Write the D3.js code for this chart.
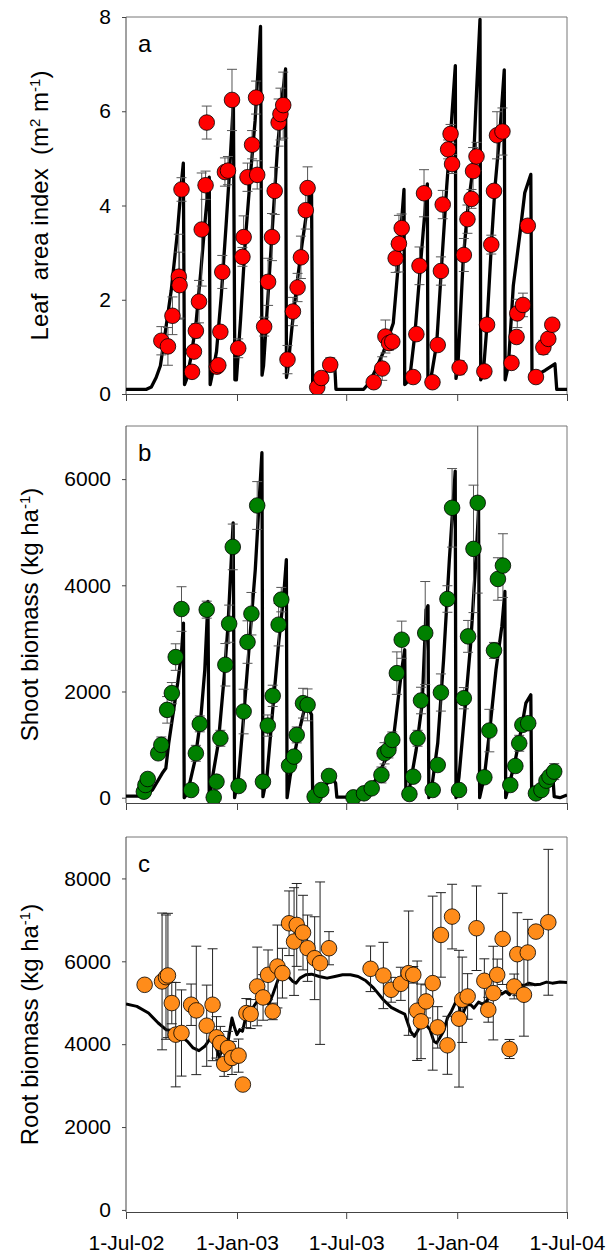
<!DOCTYPE html>
<html>
<head>
<meta charset="utf-8">
<script src="https://cdnjs.cloudflare.com/ajax/libs/d3/7.8.5/d3.min.js"></script>
<style>
  body { margin: 0; background: #fff; }
  svg { font-family: "Liberation Sans", Arial, sans-serif; }
</style>
</head>
<body>
<script>
// days after 1-Jul-02
const laiDay = [58.6,69.5,77,87.5,88.8,92,109.4,112.6,115.8,121,125.5,131.9,133.8,150.6,153,156.4,159.6,164,169,175.7,186,193,195,201.4,209,215.6,217.5,229,235.5,242,246.5,253,256,260.6,267.7,276.7,284.4,290,298,301,317,323.7,338.5,
  410.6,424.7,430,436,441.4,447,452.4,457,476,481.3,486.5,494,508,516.7,522,525,534,538,540.5,553,560,566,572.7,575.3,581,594,598.5,605.5,610,615,624,639,647.4,648.6,658,666,679.5,691.8,700,706.6];
const laiObs = [1.13,1.01,1.66,2.49,2.31,4.34,0.47,0.90,1.34,1.96,3.49,4.43,5.76,0.58,0.61,1.32,2.59,4.71,4.74,6.24,0.97,2.91,3.33,4.60,5.29,6.29,4.65,1.43,2.38,3.33,4.31,5.76,5.94,6.13,0.73,1.75,2.26,2.90,3.90,4.37,0.14,0.34,0.62,
  0.25,0.54,1.22,1.08,1.11,2.88,3.19,3.52,0.36,1.27,2.72,4.26,0.25,1.04,2.61,4.02,5.19,5.52,4.88,0.56,2.95,3.71,4.14,4.73,5.04,0.48,1.47,3.17,4.31,5.49,5.57,0.66,1.21,1.71,1.89,3.57,0.36,0.99,1.17,1.47];
const laiErr = [0.3,0.4,0.4,0.9,0.7,0.25,0.1,0.1,0.15,0.45,1.2,0.3,0.35,0.1,0.1,0.1,0.35,0.3,0.3,0.65,0.2,0.2,0.45,0.3,0.3,0.35,0.3,0.2,0.5,0.5,0.5,0.5,0.55,0.7,0.3,0.3,0.3,0.45,0.4,0.45,0.1,0.1,0.15,
  0.1,0.25,0.35,0.15,0.1,0.3,0.6,0.3,0.1,0.1,0.4,0.5,0.1,0.1,0.3,0.3,0.2,0.2,0.2,0.15,0.35,0.3,0.2,0.5,0.3,0.1,0.1,0.2,0.1,0.5,0.5,0.1,0.1,0.3,0.25,0.1,0.1,0.15,0.1,0.1];
const laiModelDay = [0,34,42,50,57,65,75,85,92,95,97,100,108,116,124,132,138,139.5,142,150,158,166,172,178,180.5,183,190,198,206,214,223,225.5,228,235,243,251,258,264.5,266,268,275,283,292,300,307.5,309.5,320,330,340,346,348,
  394,404,415,427,443,452,460.8,462,470,479,487.3,493,499.5,500.5,505,515,523,531.6,538,545.9,547,550,559,567,575.7,581,586.8,588,592,598,606,611.7,620,627,628.5,633.8,642,653,661,671,673,680,694.5,711,714,731];
const laiModel = [0.1,0.1,0.15,0.35,0.6,1.3,2.2,3.4,4.5,4.9,0.2,0.3,0.8,1.5,2.6,3.8,4.6,0.2,0.35,0.9,2.1,3.6,4.8,6.2,0.3,0.3,1.6,3.3,4.6,5.8,7.8,0.4,0.6,2.0,3.6,5.2,6.2,6.9,0.35,0.5,1.4,2.3,3.2,3.9,4.4,0.15,0.2,0.45,0.6,0.6,0.1,
  0.1,0.25,0.55,0.9,1.5,2.84,4.34,0.2,0.3,1.29,2.6,3.5,4.46,0.2,0.3,1.07,2.7,4.4,5.5,6.97,0.33,0.56,2.87,4.0,4.83,6.4,7.95,0.3,0.4,1.4,3.25,4.4,5.6,6.88,0.3,0.6,2.3,3.4,4.27,4.66,0.35,0.4,0.5,0.64,0.1,0.1];

const shootDay = [29.6,32.2,36,53.4,58.6,68.2,76,82.4,92,108,115.8,122.3,133.8,145.4,150,156.4,164.7,171,177,186.6,195,201.4,207.9,217.5,227,235,243.2,253,257.4,270.3,278.6,283,293.4,301,312.7,323.7,336.5,
  377,394.5,407.3,423.4,428.6,435,441.4,449,457,469.8,476,483.3,489,496,508.4,516.7,522,532.8,540.5,552,560,567,576,583,594,602.3,610,616.5,624.8,637,645.4,651.8,657,666.7,679.5,688.6,697,702,709.8];
const shootObs = [113,239,352,836,994,1654,1969,2648,3553,145,836,1390,3541,6,302,1119,2503,3277,4723,220,1623,2931,3465,5503,302,1358,1918,3258,3730,604,774,1182,1780,1748,19,145,409,
  6,82,176,428,836,899,1088,2346,2975,69,396,1119,1830,3101,145,616,1981,3742,5459,145,1874,3038,4686,5553,384,1264,2774,4119,4371,239,597,1025,1371,1403,82,145,321,396,491];
const shootErr = [50,50,50,100,150,250,200,250,420,50,150,150,160,30,50,150,400,350,430,50,420,400,400,450,50,200,200,400,230,100,100,150,280,300,30,50,60,
  30,30,30,150,200,150,150,400,350,50,80,150,250,970,50,100,350,250,740,50,200,300,1200,1700,100,400,150,400,600,50,100,150,100,100,50,50,50,100,150];
const shootModelDay = [0,30,43.8,60,66,70.8,79,85.6,92,95.2,96.5,101.7,114.5,124.2,130.6,135.8,138,143.5,153,162.8,169,177.6,180,186.6,195,204.6,214.3,225.3,227,233.6,243.2,253,261.3,265.8,267,272,285,298,307.6,309.5,314,327,343,347.5,349.5,
  375,397.7,413.8,430,443,449,457,462,464,468.5,481,491,497.4,500.6,502,507,516.7,526.4,536,545.7,547,552,561.8,571.4,581,584.4,586.2,594,603.6,613.3,623,628,629.4,635.8,645.4,655,662.8,671,672.5,681,693.7,706.6,709.8,719.4,731];
const shootModel = [30,30,145,459,553,1025,1654,2157,2723,3289,0,82,711,1528,2409,3698,0,396,1025,2283,3226,5176,0,396,1528,2912,4296,6497,19,396,1654,2912,3792,4484,0,396,1151,1780,1560,0,20,208,365,270,10,
  10,82,333,711,1088,1654,2409,2786,0,82,900,1780,3541,3616,0,208,1025,2597,4484,6151,0,396,1654,2912,4673,5428,0,396,1340,2409,3226,3887,0,270,711,1277,1780,1937,0,19,333,553,19,0,50];

const rootDay = [30.9,59.8,66.3,69.5,75.9,82.4,92,108,116.5,133.8,143.5,150,156.4,162.8,169.2,175.7,186.6,193.7,199.5,206.6,217.5,227.2,235.5,243.2,251,259.3,270.3,278.6,283,293.4,301,312.7,321.7,336.5,
  405.4,426.6,439.5,455.6,468.5,476.2,482.6,489,497.4,508.4,516.7,522,532.8,540.5,552,557.3,566.3,581,594,600.5,608.8,615.3,624.3,635.8,643.5,648.6,659.6,666,679.5,700];
const rootObs = [5433,5514,5618,5658,4992,4230,4270,4952,4815,4446,4952,4165,4029,3523,3909,3668,3724,3026,4751,4727,5393,5128,5674,4791,5875,5714,6918,6477,6878,6693,6316,6075,5955,6316,
  5819,5658,5313,5457,5714,5674,4807,4551,5032,5473,4406,6637,3973,7079,4615,5072,5152,6798,5530,4831,5233,5674,6541,3884,5393,6172,5193,6212,6717,6942];
const rootErr = [0,1650,1500,1500,500,1260,1040,500,1550,980,1350,500,400,300,400,400,400,0,350,350,950,550,600,200,1000,600,780,1300,1000,900,800,1000,1960,400,
  550,800,300,400,1500,200,1200,900,400,2100,500,1020,700,780,1650,1030,550,1020,530,300,1130,380,1100,230,300,1000,1000,800,0,1760];
const rootModelDay = [0,18,37.3,53.4,66.3,79,92,101.7,111.3,121,130.6,140.3,148,154.4,160.9,169.2,175.7,180.2,184,188.5,193,199.5,207.8,217.5,227,236.8,243.2,252.9,259.3,269,276.7,281.9,288.3,298,307.6,320.5,333.3,346.2,359,372,384.8,397.7,410.6,426.6,439.5,452.4,462,471.7,478,484.5,491,497.4,503.9,510.3,514.8,520,526.4,532.8,539.3,545.7,550.9,555.4,559.9,565,571.4,576.6,584.4,590.8,597.2,603.7,610,616.5,623,629.4,635.8,643.5,651.8,660.2,667.9,677.6,687.2,696.9,706.6,719.4,731];
const rootModel = [4968,4912,4751,4511,4350,4326,4190,4069,3909,3844,3949,4150,3989,3684,3909,4069,4631,4390,4230,4350,4310,4711,4831,5032,5072,4968,5193,5594,5610,5634,5514,5473,5594,5674,5690,5634,5594,5634,5674,5674,5634,5530,5353,5072,4888,4791,4727,4310,4190,4350,4551,4470,4350,4069,4029,4150,4310,4631,4791,4992,5048,4631,4791,4952,4952,4871,5016,4968,5032,5193,5257,5289,5209,5273,5193,5353,5433,5417,5473,5433,5449,5498,5473,5498,5490];

const xTickDates = ["2002-07-01","2003-01-01","2003-07-01","2004-01-01","2004-07-01"];
const xTickLabels = ["1-Jul-02","1-Jan-03","1-Jul-03","1-Jan-04","1-Jul-04"];
const laiTicks = [0,2,4,6,8];
const shootTicks = [0,2000,4000,6000];
const rootTicks = [0,2000,4000,6000,8000];

const W = 610, H = 1254;
const left = 126, right = 567;
const parse = d3.timeParse("%Y-%m-%d");
const start = parse("2002-07-01");
const toDate = d => new Date(start.getTime() + d * 864e5);

const x = d3.scaleTime()
  .domain([start, parse("2004-07-01")])
  .range([left, right]);

const svg = d3.select("body").append("svg")
  .attr("width", W).attr("height", H);

const panels = [
  {key: "a", top: 17, bottom: 394, domain: [0, 8], ticks: laiTicks,
   day: laiDay, obs: laiObs, err: laiErr, mDay: laiModelDay, mod: laiModel,
   fill: "#ff0000", errColor: "#555", titleX: 40,
   title: [["Leaf  area index  (m", 0], ["2", 1], [" m", 0], ["-1", 1], [")", 0]]},
  {key: "b", top: 426, bottom: 803, domain: [-100, 7000], ticks: shootTicks,
   day: shootDay, obs: shootObs, err: shootErr, mDay: shootModelDay, mod: shootModel,
   fill: "#008000", errColor: "#555", titleX: 30,
   title: [["Shoot biomass (kg ha", 0], ["-1", 1], [")", 0]]},
  {key: "c", top: 837, bottom: 1212, domain: [-50, 9000], ticks: rootTicks,
   day: rootDay, obs: rootObs, err: rootErr, mDay: rootModelDay, mod: rootModel,
   fill: "#ff8c1a", errColor: "#222", titleX: 30,
   title: [["Root biomass (kg ha", 0], ["-1", 1], [")", 0]]}
];

panels.forEach((p, pi) => {
  const y = d3.scaleLinear().domain(p.domain).range([p.bottom, p.top]);
  const g = svg.append("g");

  g.append("clipPath").attr("id", "clip-" + p.key)
    .append("rect")
    .attr("x", left).attr("y", p.top)
    .attr("width", right - left).attr("height", p.bottom - p.top);

  // frame top/right
  g.append("path")
    .attr("d", `M${left},${p.top}H${right}V${p.bottom}`)
    .attr("fill", "none").attr("stroke", "#777").attr("stroke-width", 1);

  // y axis
  const yAxis = g.append("g")
    .attr("transform", `translate(${left},0)`)
    .call(d3.axisLeft(y).tickValues(p.ticks).tickSize(4).tickPadding(11)
      .tickSizeOuter(0).tickFormat(d3.format("d")));
  yAxis.select(".domain").attr("d", `M0,${p.top}V${p.bottom}`);

  // x axis
  const xAxis = g.append("g")
    .attr("transform", `translate(0,${p.bottom})`)
    .call(d3.axisBottom(x).tickValues(xTickDates.map(parse)).tickSize(7)
      .tickPadding(16).tickSizeOuter(0)
      .tickFormat((d, i) => pi === 2 ? xTickLabels[i] : ""));

  [yAxis, xAxis].forEach(a => {
    a.selectAll("path,line").attr("stroke", "#444");
    a.selectAll("text").attr("font-size", 21).attr("fill", "#000")
      .attr("font-family", '"Liberation Sans", Arial, sans-serif');
  });

  const plot = g.append("g").attr("clip-path", `url(#clip-${p.key})`);

  // model line
  const line = d3.line()
    .x((d, i) => x(toDate(p.mDay[i])))
    .y(d => y(d));
  plot.append("path")
    .datum(p.mod)
    .attr("d", line)
    .attr("fill", "none")
    .attr("stroke", "#000")
    .attr("stroke-width", pi === 2 ? 3 : 3.3)
    .attr("stroke-linejoin", "round");

  // error bars
  const obs = p.day.map((d, i) => ({d: d, v: p.obs[i], e: p.err[i]}));
  const eb = plot.selectAll(".eb").data(obs.filter(o => o.e > 0)).enter()
    .append("g").attr("class", "eb")
    .attr("stroke", p.errColor).attr("stroke-width", 1);
  eb.append("line")
    .attr("x1", o => x(toDate(o.d))).attr("x2", o => x(toDate(o.d)))
    .attr("y1", o => y(o.v - o.e)).attr("y2", o => y(o.v + o.e));
  [-1, 1].forEach(s => {
    eb.append("line")
      .attr("x1", o => x(toDate(o.d)) - 5).attr("x2", o => x(toDate(o.d)) + 5)
      .attr("y1", o => y(o.v + s * o.e)).attr("y2", o => y(o.v + s * o.e));
  });

  // observed points
  plot.selectAll(".pt").data(obs).enter()
    .append("circle").attr("class", "pt")
    .attr("cx", o => x(toDate(o.d)))
    .attr("cy", o => y(o.v))
    .attr("r", 7.8)
    .attr("fill", p.fill)
    .attr("stroke", "#000")
    .attr("stroke-width", 0.8);

  // panel letter
  g.append("text")
    .attr("x", 138).attr("y", p.top + 35)
    .attr("font-size", 24)
    .text(p.key);

  // y title
  const t = g.append("text")
    .attr("transform", `translate(${p.titleX},${(p.top + p.bottom) / 2}) rotate(-90)`)
    .attr("text-anchor", "middle")
    .attr("dy", "0.35em")
    .attr("font-size", 24)
    .style("white-space", "pre");
  p.title.forEach(([s, sup]) => {
    const ts = t.append("tspan").text(s);
    if (sup) ts.attr("font-size", 15).attr("baseline-shift", "super");
  });
});
</script>
</body>
</html>
